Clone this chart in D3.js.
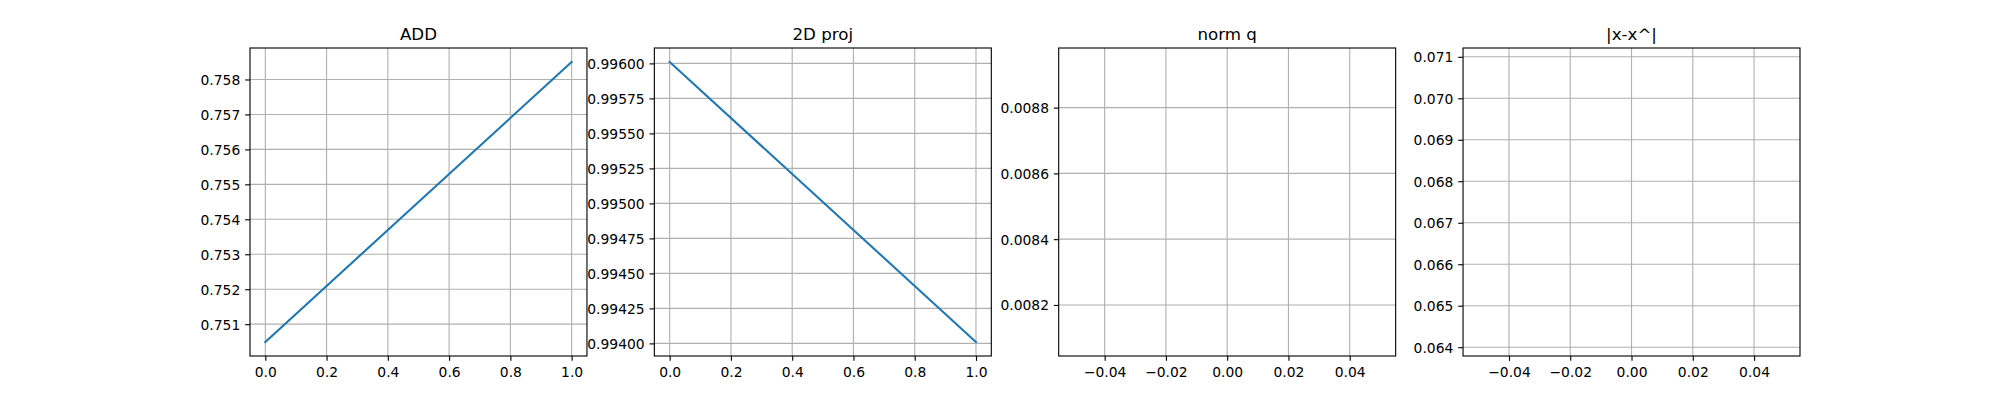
<!DOCTYPE html>
<html lang="en">
<head>
<meta charset="utf-8">
<style>
    body { margin: 0; background: #fff; }
    svg { display: block; font-family: "DejaVu Sans", sans-serif; }
</style>
</head>
<body>
<div id="chart"></div>
<script src="https://d3js.org/d3.v7.min.js"></script>
<script>
// data
var steps = [0, 1];
var addValues = [0.75049, 0.75850];
var projValues = [0.99601, 0.99401];
var normSteps = [0];
var normValues = [0.008513];
var xhatSteps = [0];
var xhatValues = [0.0675];

var titles = ["ADD", "2D proj", "norm q", "|x-x^|"];

// tick labels
var stepTicks = [0, 0.2, 0.4, 0.6, 0.8, 1.0];
var zeroTicks = [-0.04, -0.02, 0, 0.02, 0.04];
var addTicks = [0.751, 0.752, 0.753, 0.754, 0.755, 0.756, 0.757, 0.758];
var projTicks = [0.994, 0.99425, 0.9945, 0.99475, 0.995, 0.99525, 0.9955, 0.99575, 0.996];
var normTicks = [0.0082, 0.0084, 0.0086, 0.0088];
var xhatTicks = [0.064, 0.065, 0.066, 0.067, 0.068, 0.069, 0.070, 0.071];

var panels = [
    { xs: steps, ys: addValues, xt: stepTicks, yt: addTicks, xf: ".1f", yf: ".3f" },
    { xs: steps, ys: projValues, xt: stepTicks, yt: projTicks, xf: ".1f", yf: ".5f" },
    { xs: normSteps, ys: normValues, xt: zeroTicks, yt: normTicks, xf: ".2f", yf: ".4f" },
    { xs: xhatSteps, ys: xhatValues, xt: zeroTicks, yt: xhatTicks, xf: ".2f", yf: ".3f" }
];

var figW = 2000, figH = 400;
var axLeft = 0.125 * figW, axRight = 0.9 * figW, axTop = 0.12 * figH, axBottom = 0.89 * figH;
var axW = (axRight - axLeft) / (4 + 3 * 0.2), gap = axW * 0.2;
var axH = axBottom - axTop;
var pt = 100 / 72;

// autoscale like the original plotting library: expand a single value, then 5% margins
var limits = function (vals) {
    var lo = d3.min(vals), hi = d3.max(vals);
    if (hi - lo < 1e-12) {
        if (lo === 0) { lo = -0.05; hi = 0.05; }
        else { lo = lo - 0.05 * Math.abs(lo); hi = hi + 0.05 * Math.abs(hi); }
    }
    var m = (hi - lo) * 0.05;
    return [lo - m, hi + m];
};

var svg = d3.select("#chart").append("svg")
    .attr("width", figW).attr("height", figH);

panels.forEach(function (p, i) {
    var x0 = axLeft + i * (axW + gap);
    var g = svg.append("g").attr("transform", "translate(" + x0 + "," + axTop + ")");

    var x = d3.scaleLinear().domain(limits(p.xs)).range([0, axW]);
    var y = d3.scaleLinear().domain(limits(p.ys)).range([axH, 0]);

    g.append("clipPath").attr("id", "clip" + i)
        .append("rect").attr("width", axW).attr("height", axH);

    // grid
    g.append("g").attr("class", "grid")
        .selectAll("line").data(p.xt).enter().append("line")
        .attr("x1", function (d) { return x(d); }).attr("x2", function (d) { return x(d); })
        .attr("y1", 0).attr("y2", axH);
    g.append("g").attr("class", "grid")
        .selectAll("line").data(p.yt).enter().append("line")
        .attr("y1", function (d) { return y(d); }).attr("y2", function (d) { return y(d); })
        .attr("x1", 0).attr("x2", axW);
    g.selectAll(".grid line")
        .attr("stroke", "#b0b0b0").attr("stroke-width", 0.8 * pt);

    // series (a lone point draws nothing, as in the original)
    var line = d3.line()
        .x(function (d) { return x(d[0]); })
        .y(function (d) { return y(d[1]); });
    g.append("path")
        .datum(d3.zip(p.xs, p.ys))
        .attr("clip-path", "url(#clip" + i + ")")
        .attr("fill", "none")
        .attr("stroke", "#1f77b4")
        .attr("stroke-width", 1.5 * pt)
        .attr("stroke-linecap", p.xs.length > 1 ? "square" : "butt")
        .attr("d", line);

    // spines
    g.append("rect")
        .attr("width", axW).attr("height", axH)
        .attr("fill", "none").attr("stroke", "#000").attr("stroke-width", 0.8 * pt);

    var xAxis = d3.axisBottom(x).tickValues(p.xt).tickFormat(d3.format(p.xf))
        .tickSize(3.5 * pt).tickPadding(3.5 * pt);
    var yAxis = d3.axisLeft(y).tickValues(p.yt).tickFormat(d3.format(p.yf))
        .tickSize(3.5 * pt).tickPadding(3.5 * pt);

    var gx = g.append("g").attr("transform", "translate(0," + axH + ")").call(xAxis);
    var gy = g.append("g").call(yAxis);

    [gx, gy].forEach(function (a) {
        a.select(".domain").remove();
        a.selectAll(".tick line").attr("stroke", "#000").attr("stroke-width", 0.8 * pt);
        a.selectAll(".tick text")
            .attr("fill", "#000")
            .style("font-family", "'DejaVu Sans', sans-serif")
            .style("font-size", (10 * pt) + "px");
    });
    gx.selectAll(".tick text").attr("dy", "0.79em");
    gy.selectAll(".tick text").attr("dy", "0.35em");

    g.append("text")
        .attr("x", axW / 2).attr("y", -6 * pt)
        .attr("text-anchor", "middle")
        .style("font-size", (12 * pt) + "px")
        .attr("fill", "#000")
        .text(titles[i]);
});
</script>
</body>
</html>
